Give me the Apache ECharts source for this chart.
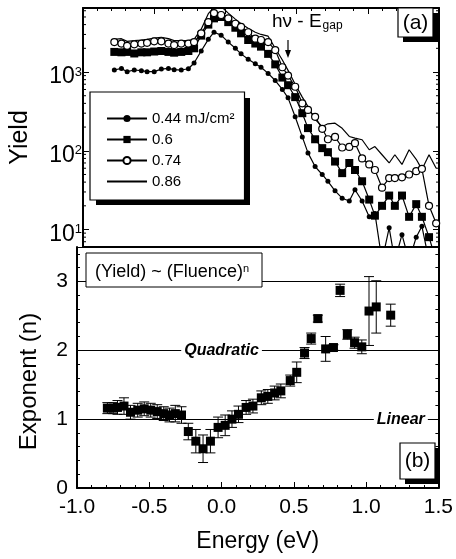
<!DOCTYPE html>
<html>
<head>
<meta charset="utf-8">
<script src="https://cdn.jsdelivr.net/npm/echarts@6/dist/echarts.min.js"></script>
<style>
html, body { margin: 0; padding: 0; background: #fff; }
#chart { width: 456px; height: 559px; }
</style>
</head>
<body>
<div id="chart"></div>
<script>
var chart = echarts.init(document.getElementById('chart'));
var FONT = "'Liberation Sans', Arial, Helvetica, sans-serif";

// ---- panel (a): yield spectra ----
var energyA = [-0.78,-0.73,-0.69,-0.64,-0.59,-0.55,-0.50,-0.45,-0.40,-0.36,-0.31,-0.26,-0.22,-0.17,-0.12,-0.08,-0.03,0.02,0.07,0.11,
    0.16,0.21,0.25,0.30,0.35,0.40,0.44,0.49,0.54,0.58,0.63,0.68,0.72,0.77,0.82,0.87,0.91,0.96,1.01,1.05,
    1.10,1.15,1.19,1.24,1.29,1.34,1.38,1.43,1.48];
var yield044 = [1060,1110,1010,1060,1040,1010,1010,1090,1110,1070,1060,1100,1300,1850,2600,3200,2940,2400,2000,1700,
    1450,1270,1150,960,780,600,470,270,150,94,63,50,41,31,25,23,32,23,14.5,16,
    4,10.5,4,8.6,4,8,11,4,4];
var yield06 = [1800,1780,1800,1720,1780,1780,1820,1850,1800,1760,1800,1850,2000,2900,4000,4800,5000,4300,3650,3100,
    2550,2300,2100,1700,1250,850,680,480,300,194,140,108,96,73,52,70,57,41,24,15,
    20,27,20,27,14.5,21,14.5,8,4];
var yield074 = [2400,2300,2150,2250,2300,2350,2450,2450,2300,2200,2300,2300,2400,3100,4300,5600,5300,4800,4100,3750,
    3200,2650,2550,2400,1900,1150,900,650,400,330,270,190,140,150,110,112,125,80,67,57,
    34,45,45,46,50,55,59,20,12];
var yield086 = [2600,2650,2450,2500,2550,2600,2700,2750,2650,2500,2500,2500,2600,3500,5500,6600,6800,5600,4700,4100,
    3600,3200,3000,2850,2000,1420,1050,700,480,364,250,203,220,224,193,152,145,138,103,113,
    89,70,89,67,103,78,58,89,60];
var fluenceNames = ['0.44 mJ/cm\u00b2', '0.6', '0.74', '0.86'];

// ---- panel (b): fitted exponent ----
var expEnergy = [-0.79,-0.75,-0.72,-0.675,-0.63,-0.58,-0.535,-0.49,-0.445,-0.40,-0.36,-0.32,-0.277,-0.23,-0.178,-0.128,-0.077,-0.024,0.025,0.072,
    0.117,0.17,0.217,0.275,0.32,0.367,0.41,0.475,0.52,0.574,0.62,0.666,0.72,0.774,0.82,0.87,0.92,0.97,1.02,1.07,1.17];
var expValue = [1.16,1.16,1.17,1.19,1.10,1.13,1.15,1.13,1.11,1.08,1.06,1.08,1.06,0.82,0.68,0.57,0.68,0.88,0.91,1.00,
    1.07,1.17,1.19,1.31,1.33,1.38,1.41,1.56,1.68,1.96,2.17,2.46,2.02,2.04,2.87,2.23,2.11,2.05,2.57,2.63,2.51];
var expError = [0.08,0.08,0.1,0.12,0.1,0.1,0.1,0.1,0.1,0.1,0.1,0.12,0.12,0.12,0.17,0.2,0.17,0.15,0.15,0.12,
    0.12,0.1,0.1,0.1,0.1,0.1,0.1,0.08,0.15,0.08,0.08,0.05,0.18,0.04,0.09,0.07,0.08,0.1,0.5,0.38,0.16];
var refLevels = [1, 2, 3];
var refLabels = [[1.24, 1, 'Linear'], [0.0, 2, 'Quadratic']];

function pairs(xs, ys) {
    var out = [];
    for (var i = 0; i < xs.length; i++) out.push([xs[i], ys[i]]);
    return out;
}

// minor tick positions of the log axis (2..9 x 10^k, inside 6..6500)
var logMinor = [6, 7, 8, 9];
[10, 100, 1000].forEach(function (d) {
    for (var m = 2; m <= 9; m++) if (m * d <= 6500) logMinor.push(m * d);
});

var axisLine = { onZero: false, lineStyle: { color: '#000', width: 2 } };
var tick = { inside: true, length: 6, lineStyle: { color: '#000', width: 1 } };
var minor = { show: true, splitNumber: 5, length: 3, lineStyle: { color: '#000', width: 1 } };

function lineSeries(name, data, symbol, size, fill) {
    return {
        name: name, type: 'line', xAxisIndex: 0, yAxisIndex: 0,
        data: data, clip: true,
        symbol: symbol, symbolSize: size, showSymbol: symbol !== 'none',
        lineStyle: { color: '#000', width: 1.2 },
        itemStyle: { color: fill, borderColor: '#000', borderWidth: fill === '#fff' ? 1.2 : 0 },
        emphasis: { disabled: true }, z: 3
    };
}

// offset black box behind a white framed box
function shadowBox(x, y, w, h, d) {
    return [
        { type: 'rect', z: 99, shape: { x: x + d, y: y + d, width: w, height: h }, style: { fill: '#000' } },
        { type: 'rect', z: 100, shape: { x: x, y: y, width: w, height: h }, style: { fill: '#fff', stroke: '#000', lineWidth: 1.2 } }
    ];
}

var graphics = [].concat(
    shadowBox(398, 8, 35, 29, 5),
    [{ type: 'text', z: 101, x: 415.5, y: 23,
       style: { text: '(a)', fontSize: 21, fontFamily: FONT, fill: '#000', align: 'center', verticalAlign: 'middle' } },
     { type: 'text', z: 101, x: 272, y: 22,
       style: { text: '{m|h\u03bd - E}{s|gap}', fontFamily: FONT, fill: '#000', verticalAlign: 'middle',
           rich: { m: { fontSize: 19, fontFamily: FONT }, s: { fontSize: 12, fontFamily: FONT, verticalAlign: 'bottom', padding: [0, 0, 0, 1] } } } },
     { type: 'line', z: 101, shape: { x1: 288, y1: 40, x2: 288, y2: 54 }, style: { stroke: '#000', lineWidth: 1.2 } },
     { type: 'polygon', z: 101, shape: { points: [[285, 50], [291, 50], [288, 58]] }, style: { fill: '#000' } },
     // legend shadow, drawn below the legend box
     { type: 'rect', z: 3, shape: { x: 96, y: 98, width: 154, height: 107 }, style: { fill: '#000' } },
     { type: 'rect', z: 100, shape: { x: 86, y: 253, width: 176, height: 34 },
       style: { fill: '#fff', stroke: '#000', lineWidth: 1 } },
     { type: 'text', z: 101, x: 95, y: 272,
       style: { text: '{m|(Yield) ~ (Fluence)}{s|n}', fontFamily: FONT, fill: '#000', verticalAlign: 'middle',
           rich: { m: { fontSize: 18, fontFamily: FONT }, s: { fontSize: 11, fontFamily: FONT, verticalAlign: 'top' } } } }],
    shadowBox(400, 443, 35, 36, 5),
    [{ type: 'text', z: 101, x: 417.5, y: 461,
       style: { text: '(b)', fontSize: 21, fontFamily: FONT, fill: '#000', align: 'center', verticalAlign: 'middle' } }]
);

option = {
    backgroundColor: '#fff',
    animation: false,
    textStyle: { fontFamily: FONT, color: '#000' },
    grid: [
        { left: 77, right: 17, top: 8, height: 239 },
        { left: 77, right: 17, top: 247, height: 241 }
    ],
    xAxis: [
        { gridIndex: 0, type: 'value', min: -1, max: 1.5, interval: 0.5, position: 'bottom',
          axisLine: axisLine, axisTick: { show: false }, axisLabel: { show: false }, splitLine: { show: false } },
        { gridIndex: 0, type: 'value', min: -1, max: 1.5, interval: 0.5, position: 'top',
          axisLine: axisLine, axisTick: tick, minorTick: minor, axisLabel: { show: false }, splitLine: { show: false } },
        { gridIndex: 1, type: 'value', min: -1, max: 1.5, interval: 0.5, position: 'bottom',
          name: 'Energy (eV)', nameLocation: 'middle', nameGap: 42,
          nameTextStyle: { fontSize: 23, color: '#000', fontFamily: FONT },
          axisLine: axisLine, axisTick: tick, minorTick: minor, splitLine: { show: false },
          axisLabel: { fontSize: 21, color: '#000', margin: 9, fontFamily: FONT,
              formatter: function (v) { return v.toFixed(1); } } }
    ],
    yAxis: [
        { gridIndex: 0, type: 'log', logBase: 10, min: 6, max: 6500, position: 'left',
          name: 'Yield', nameLocation: 'middle', nameGap: 50,
          nameTextStyle: { fontSize: 25, color: '#000', fontFamily: FONT, padding: [0, 20, 0, 0] },
          axisLine: axisLine, axisTick: tick, splitLine: { show: false },
          axisLabel: { margin: 1, showMinLabel: false, showMaxLabel: false, padding: [10, 0, 0, 0],
              formatter: function (v) {
                  var p = Math.round(Math.log(v) / Math.LN10);
                  if (Math.abs(Math.pow(10, p) - v) > 1e-6 * v) return '';
                  return '{b|10}{s|' + p + '}';
              },
              rich: { b: { fontSize: 23, fontFamily: FONT, color: '#000' },
                      s: { fontSize: 13, fontFamily: FONT, color: '#000', verticalAlign: 'top' } } } },
        { gridIndex: 0, type: 'log', logBase: 10, min: 6, max: 6500, position: 'right',
          axisLine: axisLine, axisTick: tick, axisLabel: { show: false }, splitLine: { show: false } },
        { gridIndex: 1, type: 'value', min: 0, max: 3.5, interval: 1, position: 'left',
          name: 'Exponent (n)', nameLocation: 'middle', nameGap: 36,
          nameTextStyle: { fontSize: 24, color: '#000', fontFamily: FONT, padding: [0, 28, 0, 0] },
          axisLine: axisLine, axisTick: tick, minorTick: minor, splitLine: { show: false },
          axisLabel: { fontSize: 21, color: '#000', margin: 9, fontFamily: FONT, showMaxLabel: false } },
        { gridIndex: 1, type: 'value', min: 0, max: 3.5, interval: 1, position: 'right',
          axisLine: axisLine, axisTick: tick, minorTick: minor, axisLabel: { show: false }, splitLine: { show: false } }
    ],
    legend: {
        orient: 'vertical', left: 90, top: 92, z: 4,
        itemWidth: 40, itemHeight: 9, itemGap: 6,
        padding: [19, 10, 11, 16],
        backgroundColor: '#fff', borderColor: '#000', borderWidth: 1.2,
        textStyle: { fontSize: 15, color: '#000', fontFamily: FONT },
        selectedMode: false,
        data: [fluenceNames[0], fluenceNames[1], fluenceNames[2],
            { name: fluenceNames[3], itemStyle: { color: 'rgba(0,0,0,0)', borderWidth: 0 } }]
    },
    series: [
        lineSeries(fluenceNames[0], pairs(energyA, yield044), 'circle', 5, '#000'),
        lineSeries(fluenceNames[1], pairs(energyA, yield06), 'rect', 8, '#000'),
        lineSeries(fluenceNames[2], pairs(energyA, yield074), 'circle', 7, '#fff'),
        lineSeries(fluenceNames[3], pairs(energyA, yield086), 'none', 0, '#000'),
        {
            type: 'custom', xAxisIndex: 0, yAxisIndex: 0, silent: true, z: 4,
            data: logMinor,
            renderItem: function (params, api) {
                var v = api.value(0);
                var l = api.coord([-1, v]), r = api.coord([1.5, v]);
                var st = { stroke: '#000', lineWidth: 1 };
                return { type: 'group', children: [
                    { type: 'line', shape: { x1: l[0], y1: l[1], x2: l[0] + 3, y2: l[1] }, style: st },
                    { type: 'line', shape: { x1: r[0] - 3, y1: r[1], x2: r[0], y2: r[1] }, style: st }
                ] };
            }
        },
        {
            type: 'custom', xAxisIndex: 2, yAxisIndex: 2, silent: true, z: 3,
            data: expEnergy.map(function (e, i) { return [e, expValue[i] - expError[i], expValue[i] + expError[i]]; }),
            encode: { x: 0, y: [1, 2] },
            renderItem: function (params, api) {
                var x = api.value(0);
                var lo = api.coord([x, api.value(1)]), hi = api.coord([x, api.value(2)]);
                var w = 5, st = { stroke: '#000', lineWidth: 1 };
                return { type: 'group', children: [
                    { type: 'line', shape: { x1: hi[0], y1: hi[1], x2: lo[0], y2: lo[1] }, style: st },
                    { type: 'line', shape: { x1: hi[0] - w, y1: hi[1], x2: hi[0] + w, y2: hi[1] }, style: st },
                    { type: 'line', shape: { x1: lo[0] - w, y1: lo[1], x2: lo[0] + w, y2: lo[1] }, style: st }
                ] };
            },
            markLine: {
                silent: true, symbol: 'none', z: 1, animation: false,
                label: { show: false },
                lineStyle: { color: '#000', width: 1, type: 'solid' },
                data: refLevels.map(function (v) { return { yAxis: v }; })
            },
            markPoint: {
                silent: true, symbol: 'rect', symbolSize: 1, z: 2, animation: false,
                itemStyle: { color: 'rgba(0,0,0,0)' },
                label: { show: true, position: 'inside', color: '#000', fontSize: 16, fontStyle: 'italic',
                    fontWeight: 'bold', fontFamily: FONT, backgroundColor: '#fff', padding: [1, 3],
                    formatter: function (p) { return p.name; } },
                data: refLabels.map(function (r) { return { name: r[2], coord: [r[0], r[1]] }; })
            }
        },
        {
            type: 'scatter', xAxisIndex: 2, yAxisIndex: 2, z: 4,
            symbol: 'rect', symbolSize: 9,
            itemStyle: { color: '#000', opacity: 1 },
            emphasis: { disabled: true },
            data: pairs(expEnergy, expValue)
        }
    ],
    graphic: graphics
};
chart.setOption(option);
</script>
</body>
</html>
